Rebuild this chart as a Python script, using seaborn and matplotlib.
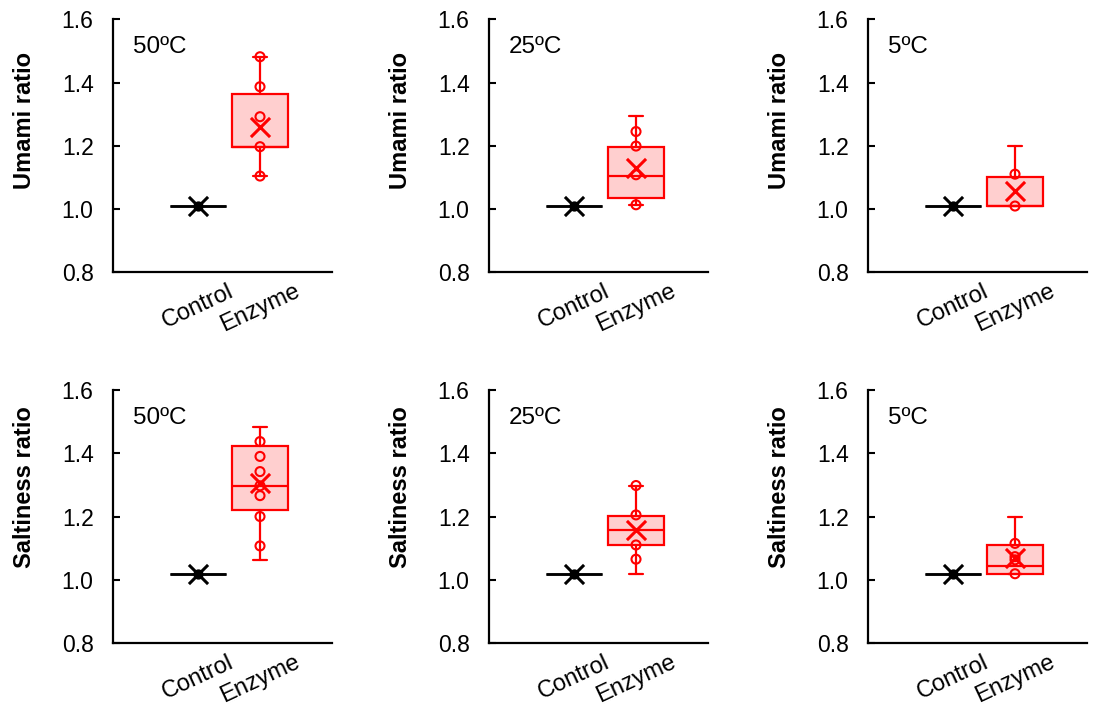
import numpy as np
import pandas as pd
import matplotlib
matplotlib.use("Agg")
import matplotlib.pyplot as plt
import seaborn as sns

# ---------------- data ----------------
categories = ["Control", "Enzyme"]
temps = ["50ºC", "25ºC", "5ºC"]
row_labels = ["Umami ratio", "Saltiness ratio"]
yticks = [0.8, 1.0, 1.2, 1.4, 1.6]

umami_control = [1.010, 1.010, 1.010]
salt_control = [1.019, 1.019, 1.019]

# enzyme individual points
umami50_points = [1.104, 1.197, 1.292, 1.387, 1.482]
umami25_points = [1.013, 1.108, 1.199, 1.245]
umami5_points = [1.009, 1.110]
salt50_points = [1.107, 1.200, 1.266, 1.297, 1.342, 1.390, 1.437]
salt25_points = [1.065, 1.110, 1.205, 1.298]
salt5_points = [1.019, 1.063, 1.073, 1.115]

# enzyme box statistics: whisker low, q1, median, q3, whisker high
umami50_box = [1.104, 1.197, 1.197, 1.364, 1.482]
umami25_box = [1.013, 1.034, 1.104, 1.197, 1.295]
umami5_box = [1.009, 1.009, 1.009, 1.102, 1.199]
salt50_box = [1.063, 1.221, 1.295, 1.424, 1.483]
salt25_box = [1.019, 1.110, 1.158, 1.202, 1.298]
salt5_box = [1.019, 1.019, 1.042, 1.110, 1.200]

# enzyme means
umami_means = [1.260, 1.129, 1.057]
salt_means = [1.305, 1.158, 1.068]

rows = [
    dict(label=row_labels[0], control=umami_control,
         points=[umami50_points, umami25_points, umami5_points],
         boxes=[umami50_box, umami25_box, umami5_box], means=umami_means),
    dict(label=row_labels[1], control=salt_control,
         points=[salt50_points, salt25_points, salt5_points],
         boxes=[salt50_box, salt25_box, salt5_box], means=salt_means),
]

# ---------------- style ----------------
sns.set_theme(style="white")
plt.rcParams["font.family"] = ["Liberation Sans", "DejaVu Sans"]
RED = "#FF0000"
PINK = "#FFCFCF"
FS_YT = 16.5
FS_XT = 17
FS_LAB = 17
FS_TXT = 17.5

W, H = 1105, 707
fig = plt.figure(figsize=(W / 100, H / 100), dpi=100)

lefts = [113, 489, 868]
ax_w = 219
row_geom = [(19.5, 272), (390, 643)]  # (top px, bottom px)
ylabel_y = [0.60, 0.615]


def stats(vals):
    lo, q1, med, q3, hi = vals
    return dict(whislo=lo, q1=q1, med=med, q3=q3, whishi=hi, fliers=[])


for r, row in enumerate(rows):
    top, bot = row_geom[r]
    for c in range(3):
        ax = fig.add_axes([lefts[c] / W, (H - bot) / H, ax_w / W, (bot - top) / H])
        # control (collapsed box)
        cval = row["control"][c]
        ax.bxp([stats([cval] * 5)], positions=[0], widths=0.9, capwidths=0.0,
               patch_artist=True, showfliers=False,
               boxprops=dict(facecolor="black", edgecolor="black", linewidth=1.8),
               medianprops=dict(color="black", linewidth=1.8),
               whiskerprops=dict(color="black", linewidth=1.8),
               capprops=dict(color="black", linewidth=1.8))
        # enzyme box
        ax.bxp([stats(row["boxes"][c])], positions=[1], widths=0.9, capwidths=0.24,
               patch_artist=True, showfliers=False,
               boxprops=dict(facecolor=PINK, edgecolor=RED, linewidth=1.6),
               medianprops=dict(color=RED, linewidth=1.6),
               whiskerprops=dict(color=RED, linewidth=1.6),
               capprops=dict(color=RED, linewidth=1.6))
        # enzyme points
        pts = row["points"][c]
        dfp = pd.DataFrame({"x": [1] * len(pts), "y": pts})
        sns.scatterplot(data=dfp, x="x", y="y", ax=ax, marker="o", s=42,
                        facecolor="none", edgecolor=RED, linewidth=1.5,
                        zorder=4, legend=False)
        # means
        dfm = pd.DataFrame({"x": [0, 1], "y": [cval, row["means"][c]]})
        sns.scatterplot(data=dfm.iloc[[0]], x="x", y="y", ax=ax, marker="o", s=55,
                        color="black", edgecolor="black", linewidth=0,
                        zorder=5, legend=False)
        sns.scatterplot(data=dfm.iloc[[0]], x="x", y="y", ax=ax, marker="x", s=190,
                        color="black", linewidth=2.2, zorder=6, legend=False)
        sns.scatterplot(data=dfm.iloc[[1]], x="x", y="y", ax=ax, marker="x", s=190,
                        color=RED, linewidth=2.2, zorder=6, legend=False)

        ax.set_xlim(-1.371, 2.161)
        ax.set_ylim(0.8, 1.6)
        ax.set_yticks(yticks)
        ax.set_yticklabels([f"{t:.1f}" for t in yticks], fontsize=FS_YT)
        ax.set_xticks([0, 1])
        ax.set_xticklabels(categories, fontsize=FS_XT, rotation=25, ha="center")
        ax.tick_params(axis="y", direction="in", length=5, width=1.5,
                       pad=14, left=True, colors="black")
        ax.tick_params(axis="x", length=0, pad=6, colors="black")
        for s in ["top", "right"]:
            ax.spines[s].set_visible(False)
        for s in ["left", "bottom"]:
            ax.spines[s].set_color("black")
            ax.spines[s].set_linewidth(1.6)
        ax.set_xlabel("")
        ax.set_ylabel(row["label"], fontsize=FS_LAB, fontweight="bold", color="black")
        ax.yaxis.set_label_coords(-0.35, ylabel_y[r])
        ax.text(0.09, 0.89, temps[c], transform=ax.transAxes, fontsize=FS_TXT,
                ha="left", va="center", color="black")
        ax.grid(False)

fig.savefig("out.png", dpi=100)
